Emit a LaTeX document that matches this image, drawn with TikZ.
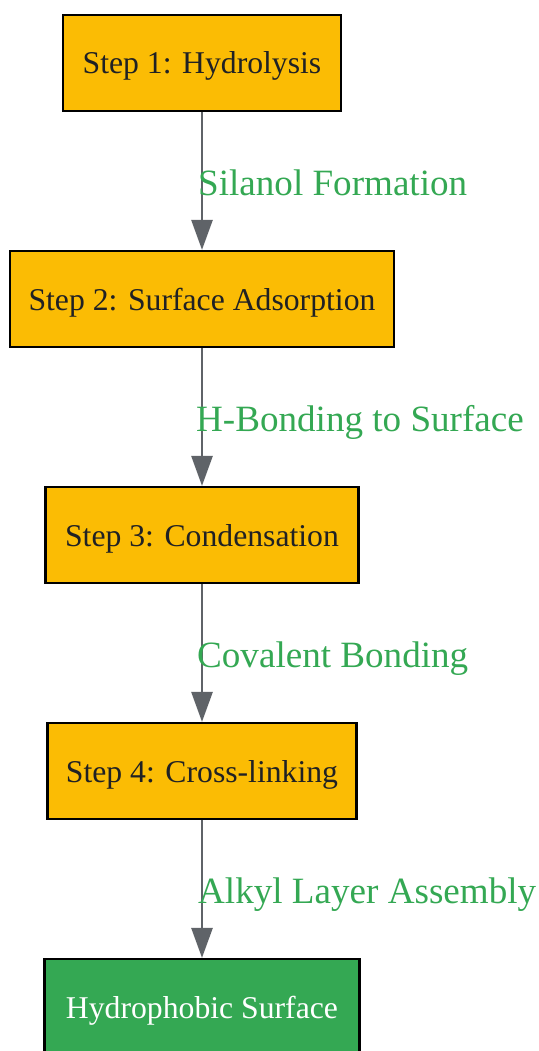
\documentclass[tikz,border=0pt]{standalone}
\usepackage{fontspec}
\setmainfont{Liberation Serif}
\usetikzlibrary{arrows.meta}
\usetikzlibrary{positioning}
\tikzset{
	>={Triangle[length=30pt,width=21pt]},
    stepbox/.style={draw=black, line width=2.2pt, fill=stepyellow, text=textdark,
        minimum height=96pt, inner sep=0pt, text height=22pt, text depth=0pt,
        font=\fontsize{31.7}{38}\selectfont},
    endbox/.style={stepbox, fill=surfgreen, text=white},
    flow/.style={->, draw=arrowgray, line width=2.7pt},
    steplabel/.style={anchor=base west, inner sep=0pt, text=surfgreen,
        font=\fontsize{37.1}{44}\selectfont},
}
\definecolor{stepyellow}{HTML}{FBBC04}
\definecolor{surfgreen}{HTML}{34A853}
\definecolor{arrowgray}{HTML}{5F6368}
\definecolor{textdark}{HTML}{202124}

\begin{document}
\begin{tikzpicture}[x=1pt, y=-1pt]
\useasboundingbox (0,0) rectangle (538,1051);

\node[stepbox, minimum width=278pt] (hydro) at (202,63) {Step 1: Hydrolysis};
\node[stepbox, minimum width=384pt] (adsorb) at (202,299) {Step 2: Surface Adsorption};
\node[stepbox, minimum width=313pt] (conden) at (202,535) {Step 3: Condensation};
\node[stepbox, minimum width=309pt] (xlink) at (202,771) {Step 4: Cross-linking};
\node[endbox, minimum width=315pt] (surf) at (202,1007) {Hydrophobic Surface};

\draw[flow] (hydro) -- (adsorb);
\node[steplabel] (silanol) at (198,195) {Silanol Formation};

\draw[flow] (adsorb) -- (conden);
\node[steplabel] (hbond) at (196,431) {H-Bonding to Surface};

\draw[flow] (conden) -- (xlink);
\node[steplabel] (coval) at (197,667) {Covalent Bonding};

\draw[flow] (xlink) -- (surf);
\node[steplabel] (alkyl) at (198,903) {Alkyl Layer Assembly};
\end{tikzpicture}
\end{document}
